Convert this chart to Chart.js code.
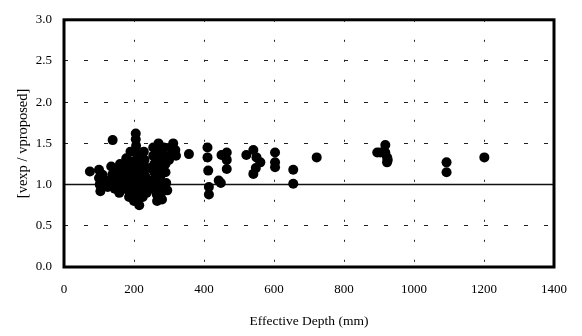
<!DOCTYPE html>
<html>
<head>
<meta charset="utf-8">
<script src="https://cdn.jsdelivr.net/npm/chart.js@4"></script>
<style>
  body { margin: 0; background: #fff; }
  canvas { display: block; }
</style>
</head>
<body>
<canvas id="depthChart" width="582" height="336" style="width:582px;height:336px"></canvas>
<script>
// Effective depth (mm) and ratio vexp / vproposed
const depthValues = [
    74, 100, 100, 102, 104, 110, 118, 125, 139, 135,
    138, 140, 145, 150, 152, 155, 158, 160, 165, 170,
    172, 178, 180, 182, 183, 185, 186, 190, 192, 195,
    195, 196, 198, 200, 205, 205, 206, 207, 208, 208,
    210, 210, 211, 212, 213, 215, 218, 220, 220, 222,
    223, 225, 228, 230, 232, 232, 235, 236, 245, 245,
    248, 255, 255, 258, 258, 260, 262, 265, 266, 270,
    272, 272, 275, 275, 276, 278, 280, 285, 288, 290,
    290, 292, 295, 300, 305, 308, 312, 318, 320, 357,
    410, 410, 412, 414, 414, 442, 450, 448, 465, 465,
    465, 521, 541, 550, 561, 541, 548, 603, 603, 603,
    655, 655, 722, 895, 904, 918, 918, 923, 923, 925,
    1093, 1093, 1201
];
const ratioValues = [
    1.16, 1.18, 1.08, 1.00, 0.92, 1.12, 1.05, 0.97, 1.54, 1.22,
    1.12, 1.04, 0.95, 1.18, 1.08, 1.00, 0.90, 1.25, 1.15, 1.05,
    0.95, 1.32, 1.22, 1.12, 1.02, 0.93, 0.85, 1.40, 1.28, 1.18,
    1.08, 0.98, 0.88, 0.80, 1.62, 1.55, 1.47, 1.38, 1.30, 1.22,
    1.14, 1.06, 0.97, 0.90, 0.82, 0.75, 1.35, 1.25, 1.15, 1.05,
    0.95, 0.85, 1.40, 1.30, 1.20, 1.10, 1.00, 0.90, 1.20, 1.05,
    0.95, 1.45, 1.35, 1.25, 1.15, 1.05, 0.96, 0.88, 0.80, 1.50,
    1.40, 1.30, 1.20, 1.10, 1.00, 0.90, 0.82, 1.45, 1.35, 1.25,
    1.15, 1.02, 0.93, 1.30, 1.45, 1.38, 1.50, 1.42, 1.35, 1.37,
    1.45, 1.33, 1.17, 0.97, 0.88, 1.05, 1.36, 1.02, 1.39, 1.30,
    1.19, 1.36, 1.42, 1.33, 1.27, 1.13, 1.20, 1.39, 1.27, 1.21,
    1.18, 1.01, 1.33, 1.39, 1.39, 1.48, 1.39, 1.33, 1.27, 1.30,
    1.27, 1.15, 1.33
];
const referenceLine = [1.0, 1.0];
const xTicks = [0, 200, 400, 600, 800, 1000, 1200, 1400];
const yTicks = [0.0, 0.5, 1.0, 1.5, 2.0, 2.5, 3.0];

const points = depthValues.map((d, i) => ({ x: d, y: ratioValues[i] }));
const refPoints = [
    { x: xTicks[0], y: referenceLine[0] },
    { x: xTicks[xTicks.length - 1], y: referenceLine[1] }
];

// thick frame around the plot area
const framePlugin = {
    id: 'frame',
    afterDraw(chart) {
        const a = chart.chartArea;
        const c = chart.ctx;
        c.save();
        c.strokeStyle = '#000';
        c.lineWidth = 3;
        c.strokeRect(a.left, a.top, a.right - a.left, a.bottom - a.top);
        c.restore();
    }
};

const serif = 'Liberation Serif';

new Chart(document.getElementById('depthChart'), {
    type: 'scatter',
    data: {
        datasets: [{
            data: points,
            pointRadius: 5,
            pointBackgroundColor: '#000',
            pointBorderWidth: 0
        }, {
            type: 'line',
            data: refPoints,
            borderColor: '#111',
            borderWidth: 1.5,
            pointRadius: 0
        }]
    },
    options: {
        responsive: false,
        animation: false,
        layout: { padding: { left: 0, right: 24, top: 15, bottom: 0 } },
        plugins: {
            legend: { display: false },
            tooltip: { enabled: false }
        },
        scales: {
            x: {
                type: 'linear',
                min: xTicks[0],
                max: xTicks[xTicks.length - 1],
                afterBuildTicks: s => { s.ticks = xTicks.map(v => ({ value: v })); },
                afterFit: s => { s.height = 69; },
                ticks: {
                    padding: 15,
                    color: '#000',
                    maxRotation: 0,
                    font: { family: serif, size: 13 },
                    callback: v => String(v)
                },
                grid: {
                    drawTicks: false,
                    color: '#222',
                    lineWidth: ctx => (ctx.index === 0 || ctx.index === xTicks.length - 1) ? 0 : 1
                },
                border: { display: false, dash: [2, 18] },
                title: {
                    display: true,
                    text: 'Effective Depth (mm)',
                    color: '#000',
                    font: { family: serif, size: 13.5 },
                    padding: { top: 0, bottom: 6 }
                }
            },
            y: {
                min: yTicks[0],
                max: yTicks[yTicks.length - 1],
                afterBuildTicks: s => { s.ticks = yTicks.map(v => ({ value: v })); },
                afterFit: s => { s.width = 64; },
                ticks: {
                    padding: 12,
                    color: '#000',
                    font: { family: serif, size: 13 },
                    callback: v => Number(v).toFixed(1)
                },
                grid: {
                    drawTicks: false,
                    color: '#222',
                    lineWidth: ctx => (ctx.index === 0 || ctx.index === yTicks.length - 1) ? 0 : 1
                },
                border: { display: false, dash: [4, 16] },
                title: {
                    display: true,
                    text: '[vexp / vproposed]',
                    color: '#000',
                    font: { family: serif, size: 14.5 },
                    padding: { top: 14, bottom: 0 }
                }
            }
        }
    },
    plugins: [framePlugin]
});
</script>
</body>
</html>
